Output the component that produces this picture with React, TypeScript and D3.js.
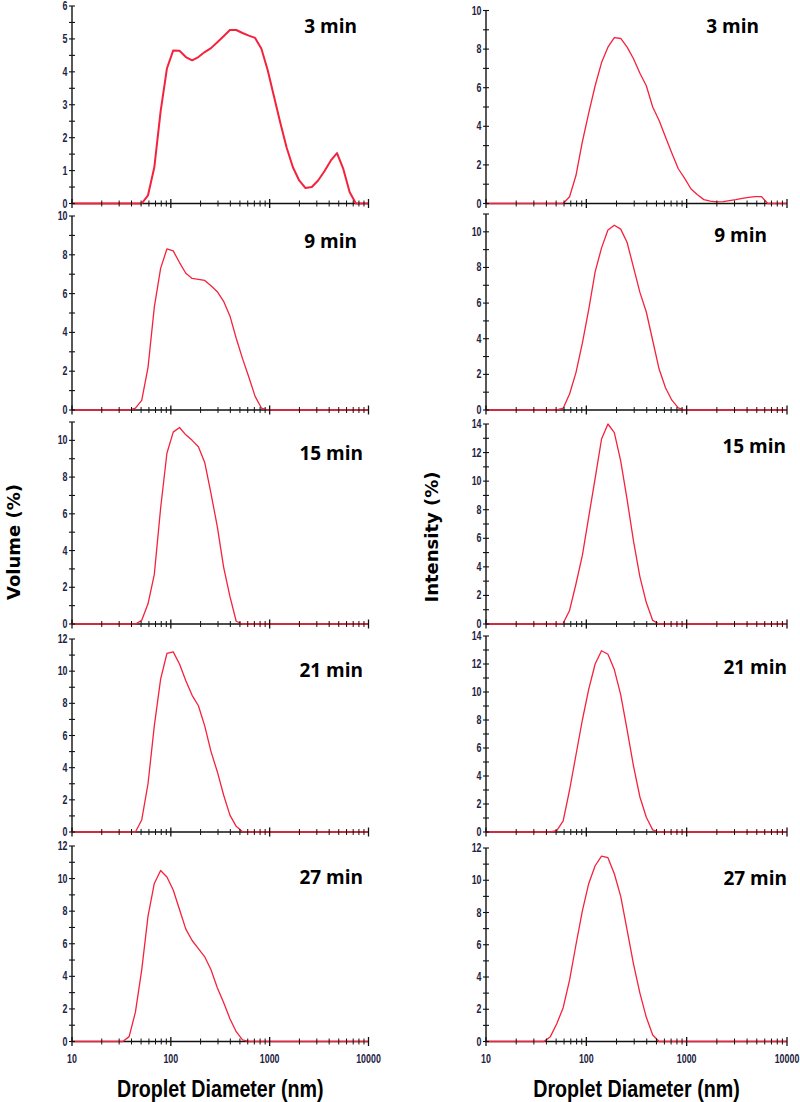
import React, { useRef, useEffect } from "react";
import { select, scaleLog, scaleLinear, line, range } from "d3";

// particle size bins (nm), as exported by the instrument
const SIZES = [
  10.1, 11.7, 13.54, 15.69, 18.17, 21.04, 24.36, 28.21, 32.67, 37.84, 43.82, 50.75,
  58.77, 68.06, 78.82, 91.28, 105.7, 122.4, 141.8, 164.2, 190.1, 220.2, 255.0, 295.3,
  342.0, 396.1, 458.7, 531.2, 615.1, 712.4, 825.0, 955.4, 1106, 1281, 1484, 1718,
  1990, 2305, 2669, 3091, 3580, 4145, 4801, 5560, 6439, 7456, 8635, 10000
];

// volume distributions (%)
const VOLUME_3 = [
  0, 0, 0, 0, 0, 0, 0, 0, 0, 0, 0, 0,
  0.25, 1.1, 2.8, 4.1, 4.65, 4.64, 4.45, 4.35, 4.45, 4.6, 4.72, 4.9,
  5.08, 5.27, 5.27, 5.18, 5.1, 5.03, 4.7, 4.05, 3.25, 2.45, 1.7, 1.1,
  0.7, 0.47, 0.5, 0.7, 0.98, 1.3, 1.53, 1.05, 0.35, 0, 0, 0
];
const VOLUME_9 = [
  0, 0, 0, 0, 0, 0, 0, 0, 0, 0, 0.1, 0.5,
  2.2, 5.3, 7.3, 8.3, 8.2, 7.6, 7.05, 6.78, 6.73, 6.68, 6.4, 6.1,
  5.6, 4.85, 3.7, 2.65, 1.7, 0.7, 0.1, 0, 0, 0, 0, 0,
  0, 0, 0, 0, 0, 0, 0, 0, 0, 0, 0, 0
];
const VOLUME_15 = [
  0, 0, 0, 0, 0, 0, 0, 0, 0, 0, 0, 0.2,
  1.1, 2.7, 6.3, 9.3, 10.45, 10.7, 10.3, 10.0, 9.65, 8.8, 7.1, 5.3,
  3.1, 1.5, 0.15, 0, 0, 0, 0, 0, 0, 0, 0, 0,
  0, 0, 0, 0, 0, 0, 0, 0, 0, 0, 0, 0
];
const VOLUME_21 = [
  0, 0, 0, 0, 0, 0, 0, 0, 0, 0, 0, 0.75,
  3.0, 6.6, 9.5, 11.1, 11.2, 10.45, 9.4, 8.5, 7.85, 6.6, 5.0, 3.75,
  2.3, 1.05, 0.35, 0.02, 0, 0, 0, 0, 0, 0, 0, 0,
  0, 0, 0, 0, 0, 0, 0, 0, 0, 0, 0, 0
];
const VOLUME_27 = [
  0, 0, 0, 0, 0, 0, 0, 0, 0, 0.3, 1.8, 4.4,
  7.7, 9.7, 10.5, 10.1, 9.3, 8.1, 6.9, 6.2, 5.7, 5.2, 4.4, 3.3,
  2.4, 1.4, 0.6, 0.1, 0, 0, 0, 0, 0, 0, 0, 0,
  0, 0, 0, 0, 0, 0, 0, 0, 0, 0, 0, 0
];

// intensity distributions (%)
const INTENSITY_3 = [
  0, 0, 0, 0, 0, 0, 0, 0, 0, 0, 0, 0,
  0, 0.35, 1.45, 3.2, 4.7, 6.1, 7.3, 8.1, 8.6, 8.55, 8.1, 7.5,
  6.75, 6.1, 5.0, 4.3, 3.45, 2.6, 1.8, 1.3, 0.75, 0.45, 0.2, 0.12,
  0.08, 0.1, 0.15, 0.2, 0.27, 0.32, 0.36, 0.36, 0, 0, 0, 0
];
const INTENSITY_9 = [
  0, 0, 0, 0, 0, 0, 0, 0, 0, 0, 0, 0,
  0.1, 0.9, 2.1, 3.75, 5.65, 7.75, 9.1, 10.1, 10.37, 10.15, 9.4, 8.0,
  6.6, 5.5, 3.9, 2.3, 1.25, 0.55, 0.12, 0, 0, 0, 0, 0,
  0, 0, 0, 0, 0, 0, 0, 0, 0, 0, 0, 0
];
const INTENSITY_15 = [
  0, 0, 0, 0, 0, 0, 0, 0, 0, 0, 0, 0,
  0.05, 0.95, 2.8, 4.8, 7.5, 10.2, 12.95, 14.0, 13.4, 11.4, 8.7, 5.8,
  3.3, 1.5, 0.25, 0, 0, 0, 0, 0, 0, 0, 0, 0,
  0, 0, 0, 0, 0, 0, 0, 0, 0, 0, 0, 0
];
const INTENSITY_21 = [
  0, 0, 0, 0, 0, 0, 0, 0, 0, 0, 0, 0.1,
  0.8, 3.0, 5.5, 8.0, 10.2, 12.0, 12.95, 12.7, 11.6, 9.8, 7.3, 4.7,
  2.5, 1.05, 0.15, 0, 0, 0, 0, 0, 0, 0, 0, 0,
  0, 0, 0, 0, 0, 0, 0, 0, 0, 0, 0, 0
];
const INTENSITY_27 = [
  0, 0, 0, 0, 0, 0, 0, 0, 0, 0, 0.3, 1.1,
  2.1, 3.8, 6.0, 8.1, 9.8, 10.9, 11.5, 11.4, 10.4, 9.0, 6.9, 4.8,
  3.0, 1.5, 0.4, 0, 0, 0, 0, 0, 0, 0, 0, 0,
  0, 0, 0, 0, 0, 0, 0, 0, 0, 0, 0, 0
];

const TIME_LABELS = ["3 min", "9 min", "15 min", "21 min", "27 min"];
const VOLUME_MAX = [6, 10, 11, 12, 12];
const VOLUME_STEP = [1, 2, 2, 2, 2];
const INTENSITY_MAX = [10, 11, 14, 14, 12];
const INTENSITY_STEP = [2, 2, 2, 2, 2];
const X_TICK_LABELS = [10, 100, 1000, 10000];
const X_TITLE = "Droplet Diameter (nm)";

// layout
const BOTTOMS = [203.5, 410, 624, 832, 1041.5];
const LEFT_TOPS = [6, 216, 422, 639, 846];
const RIGHT_TOPS = [10.5, 214, 424, 636, 848];
const LEFT_LABEL_END = [357, 357, 363, 363, 363];
const RIGHT_LABEL_END = [759, 767, 786, 787, 787];
const LEFT_LABEL_Y = [33, 248, 460, 677, 884];
const RIGHT_LABEL_Y = [33, 242, 453, 674, 885];

const RED = "#f4223c";
const TICK_TEXT = "#1e2244";
const NARROW = "'Liberation Sans', Arial, sans-serif";
const SQUEEZE = 0.74; // the original uses a condensed face

const App = () => {
  const svgRef = useRef(null);

  useEffect(() => {
    const svg = select(svgRef.current);
    svg.selectAll("*").remove();

    const columns = [
      {
        x0: 72, x1: 368.5, tops: LEFT_TOPS, maxes: VOLUME_MAX, steps: VOLUME_STEP,
        series: [VOLUME_3, VOLUME_9, VOLUME_15, VOLUME_21, VOLUME_27],
        labelEnd: LEFT_LABEL_END, labelY: LEFT_LABEL_Y
      },
      {
        x0: 486, x1: 787, tops: RIGHT_TOPS, maxes: INTENSITY_MAX, steps: INTENSITY_STEP,
        series: [INTENSITY_3, INTENSITY_9, INTENSITY_15, INTENSITY_21, INTENSITY_27],
        labelEnd: RIGHT_LABEL_END, labelY: RIGHT_LABEL_Y
      }
    ];

    const minorX = [];
    [10, 100, 1000].forEach(d => {
      for (let k = 2; k <= 9; k++) minorX.push(d * k);
    });

    columns.forEach((col, ci) => {
      const xScale = scaleLog().domain([10, 10000]).range([col.x0, col.x1]);

      col.series.forEach((values, pi) => {
        const yScale = scaleLinear()
          .domain([0, col.maxes[pi]])
          .range([BOTTOMS[pi], col.tops[pi]]);
        const g = svg.append("g");

        // axes lines
        g.append("line")
          .attr("x1", col.x0).attr("x2", col.x1)
          .attr("y1", yScale(0)).attr("y2", yScale(0))
          .attr("stroke", "#111").attr("stroke-width", 1.6);
        g.append("line")
          .attr("x1", col.x0).attr("x2", col.x0)
          .attr("y1", yScale(0)).attr("y2", yScale(col.maxes[pi]))
          .attr("stroke", "#111").attr("stroke-width", 1.4);

        // curve
        const path = line()
          .x((d, i) => xScale(SIZES[i]))
          .y(d => yScale(d));
        g.append("path")
          .attr("d", path(values))
          .attr("fill", "none")
          .attr("stroke", RED)
          .attr("stroke-width", ci === 0 && pi === 0 ? 2 : 1.3)
          .attr("stroke-linejoin", "round");

        // x ticks
        g.selectAll(".xminor")
          .data(minorX)
          .join("line")
          .attr("x1", d => xScale(d)).attr("x2", d => xScale(d))
          .attr("y1", yScale(0) - 3).attr("y2", yScale(0) + 3)
          .attr("stroke", "#111").attr("stroke-width", 1);
        g.selectAll(".xmajor")
          .data(X_TICK_LABELS)
          .join("line")
          .attr("x1", d => xScale(d)).attr("x2", d => xScale(d))
          .attr("y1", yScale(0) - 4.5).attr("y2", yScale(0) + 4.5)
          .attr("stroke", "#111").attr("stroke-width", 1.3);

        // y ticks
        const half = col.steps[pi] / 2;
        const yTicks = range(0, col.maxes[pi] + 0.001, half);
        g.selectAll(".ytick")
          .data(yTicks)
          .join("line")
          .attr("x1", col.x0 - 3).attr("x2", col.x0 + 3)
          .attr("y1", d => yScale(d)).attr("y2", d => yScale(d))
          .attr("stroke", "#111").attr("stroke-width", 1.1);
        const labels = range(0, col.maxes[pi] + 0.001, col.steps[pi]);
        g.selectAll(".ylabel")
          .data(labels)
          .join("text")
          .attr("transform", d => `translate(${col.x0 - 4.5},${yScale(d) + 4}) scale(${SQUEEZE},1)`)
          .attr("text-anchor", "end")
          .attr("font-family", NARROW)
          .attr("font-weight", "bold")
          .attr("font-size", 12)
          .attr("fill", TICK_TEXT)
          .text(d => d);

        // panel label
        g.append("text")
          .attr("x", col.labelEnd[pi])
          .attr("y", col.labelY[pi])
          .attr("text-anchor", "end")
          .attr("font-family", "'Open Sans', Lato, sans-serif")
          .attr("font-weight", "bold")
          .attr("font-size", 19)
          .attr("fill", "#000")
          .text(TIME_LABELS[pi]);

        if (pi === col.series.length - 1) {
          g.selectAll(".xlabel")
            .data(X_TICK_LABELS)
            .join("text")
            .attr("transform", d => `translate(${xScale(d)},1063) scale(${SQUEEZE},1)`)
            .attr("text-anchor", "middle")
            .attr("font-family", NARROW)
            .attr("font-weight", "bold")
            .attr("font-size", 12)
            .attr("fill", TICK_TEXT)
            .text(d => d);
          g.append("text")
            .attr("transform", `translate(${(col.x0 + col.x1) / 2},1097) scale(0.82,1)`)
            .attr("text-anchor", "middle")
            .attr("font-family", NARROW)
            .attr("font-weight", "bold")
            .attr("font-size", 24)
            .attr("fill", "#000")
            .text(X_TITLE);
        }
      });
    });

    // y titles
    svg.append("text")
      .attr("transform", "translate(20,542) rotate(-90)")
      .attr("text-anchor", "middle")
      .attr("font-family", "'DejaVu Sans', Verdana, sans-serif")
      .attr("font-weight", "bold")
      .attr("font-size", 18)
      .attr("fill", "#000")
      .text("Volume (%)");
    svg.append("text")
      .attr("transform", "translate(438,537) rotate(-90)")
      .attr("text-anchor", "middle")
      .attr("font-family", "'DejaVu Sans', Verdana, sans-serif")
      .attr("font-weight", "bold")
      .attr("font-size", 18)
      .attr("fill", "#000")
      .text("Intensity (%)");
  }, []);

  return (
    <svg
      ref={svgRef}
      width="800"
      height="1102"
      viewBox="0 0 800 1102"
      style={{ position: "absolute", left: 0, top: 0, background: "#fff" }}
    />
  );
};

export default App;
